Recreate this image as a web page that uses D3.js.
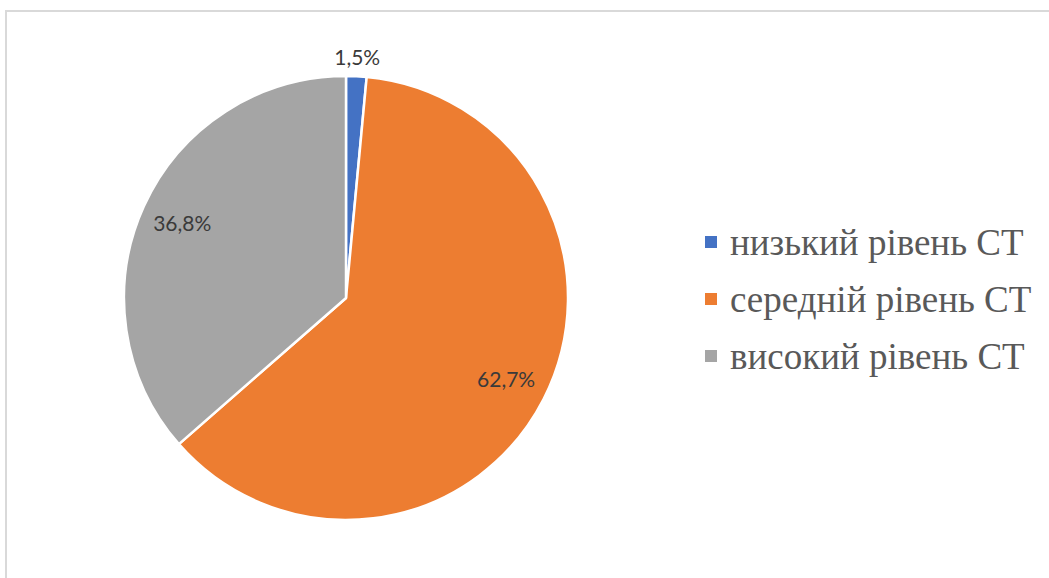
<!DOCTYPE html>
<html><head><meta charset="utf-8"><script src="https://cdn.jsdelivr.net/npm/d3@7"></script></head>
<body style="margin:0">
<svg id="s" width="1049" height="578"></svg>
<script>
// Distribution of levels (values in percent)
const categories = ["низький рівень СТ", "середній рівень СТ", "високий рівень СТ"];
const values = [1.5, 62.7, 36.8];
const labels = ["1,5%", "62,7%", "36,8%"];
const colors = ["#4472C4", "#ED7D31", "#A5A5A5"];

const svg = d3.select("#s");
const W = 1049, H = 578;

// chart frame
svg.append("rect")
  .attr("x", 6).attr("y", 11)
  .attr("width", W + 10).attr("height", H + 10)
  .attr("fill", "#fff")
  .attr("stroke", "#d9d9d9")
  .attr("stroke-width", 2);

// legend (square markers + serif captions)
const rowY = d3.scalePoint().domain(categories).range([242, 356]);

categories.forEach((c, i) => {
  svg.append("rect")
    .attr("x", 705).attr("y", rowY(c) - 6)
    .attr("width", 12).attr("height", 12)
    .attr("fill", colors[i]);
  svg.append("text")
    .attr("x", 730).attr("y", rowY(c) + 13)
    .style("font-family", '"Times New Roman"')
    .style("font-size", "37px")
    .attr("fill", "#595959")
    .text(c);
});

// pie
const cx = 346, cy = 298, R = 222;

const pie = d3.pie().sort(null).value(d => d);
const arcs = pie(values);
const arc = d3.arc().innerRadius(0).outerRadius(R);
const labelArc = d3.arc().innerRadius(R * 0.81).outerRadius(R * 0.81);
const outerLabelArc = d3.arc().innerRadius(R + 18).outerRadius(R + 18);

const g = svg.append("g").attr("transform", `translate(${cx},${cy})`);

g.selectAll("path.slice")
  .data(arcs)
  .join("path")
  .attr("class", "slice")
  .attr("d", arc)
  .attr("fill", (d, i) => colors[i])
  .attr("stroke", "#fff")
  .attr("stroke-width", 2.5)
  .attr("stroke-linejoin", "round");

// data labels: small slices get an outside label
arcs.forEach((d, i) => {
  const small = (d.endAngle - d.startAngle) < 0.3;
  const p = (small ? outerLabelArc : labelArc).centroid(d);
  svg.append("text")
    .attr("x", cx + p[0]).attr("y", cy + p[1] + 7)
    .attr("text-anchor", "middle")
    .style("font-family", '"Lato"')
    .style("font-size", "21px")
    .attr("fill", "#3a3a3a")
    .text(labels[i]);
});
</script></body></html>
